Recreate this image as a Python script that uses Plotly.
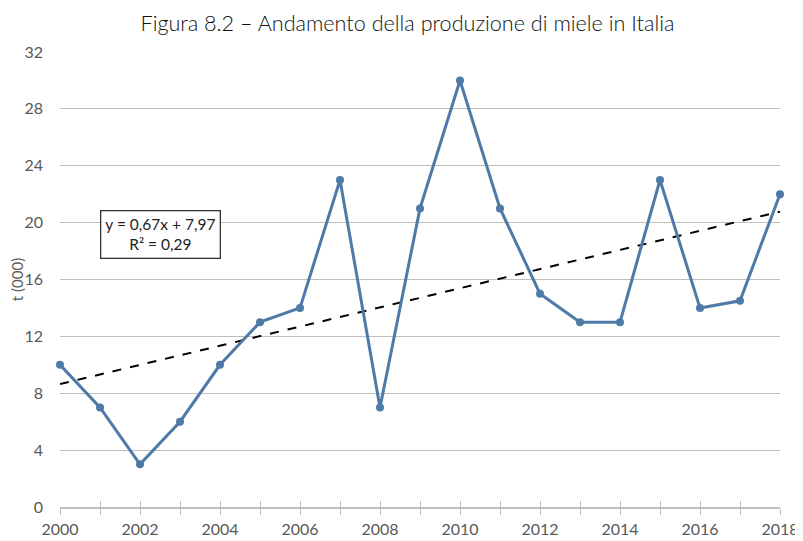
import numpy as np
import plotly.graph_objects as go

years = list(range(2000, 2019))
production = [10, 7, 3, 6, 10, 13, 14, 23, 7, 21, 30, 21, 15, 13, 13, 23, 14, 14.5, 22]
y_ticks = [0, 4, 8, 12, 16, 20, 24, 28, 32]
x_tick_labels = [str(y) if y % 2 == 0 else "" for y in years]

title = "Figura 8.2 – Andamento della produzione di miele in Italia"
equation = "y = 0,67x + 7,97<br>R² = 0,29"

# linear trend (x = 1..n, as in the spreadsheet)
idx = np.arange(1, len(years) + 1)
slope, intercept = np.polyfit(idx, production, 1)
trend = slope * idx + intercept

FONT = "Lato"
SERIES = "#4d7aa6"
GRID = "#bfbfbf"
TXT = "#595959"

fig = go.Figure()
fig.add_trace(go.Scatter(x=years, y=list(trend), mode="lines",
                         line=dict(color="black", width=2, dash="dash"),
                         hoverinfo="skip", showlegend=False))
fig.add_trace(go.Scatter(x=years, y=production, mode="lines+markers",
                         line=dict(color=SERIES, width=3),
                         marker=dict(color=SERIES, size=8),
                         cliponaxis=False, showlegend=False))
# dummy trace for overlay axis (inner halves of the tick marks)
fig.add_trace(go.Scatter(x=[years[0]], y=[0], xaxis="x2", mode="markers",
                         marker=dict(opacity=0), hoverinfo="skip", showlegend=False))

fig.add_annotation(x=2002.5, y=19.2, xref="x", yref="y", text=equation,
                   showarrow=False, align="center",
                   font=dict(family=FONT, size=15.5, color="#222222"),
                   bgcolor="white", bordercolor="#333333", borderwidth=1.3,
                   borderpad=4)

# page body has an 8px default margin: the figure is sized to fit the window
fig.update_layout(
    width=795, height=533,
    margin=dict(l=52, r=23, t=44, b=34, autoexpand=False),
    paper_bgcolor="white", plot_bgcolor="white",
    font=dict(family=FONT, color=TXT, size=15),
    title=dict(text=title, x=0.5 + 2 / 795, xanchor="center", y=0.985, yanchor="top",
               automargin=False,
               font=dict(family=FONT, size=21.6, color="#111111", weight=300)),
    xaxis=dict(range=[2000, 2018], tickvals=years, ticktext=x_tick_labels,
               ticks="outside", ticklen=6, tickcolor=GRID, tickwidth=1,
               showline=True, linecolor=GRID, linewidth=1.5,
               showgrid=False, zeroline=False, automargin=False,
               tickfont=dict(size=16, color=TXT), ticklabelstandoff=1),
    xaxis2=dict(range=[2000, 2018], overlaying="x", anchor="y", side="bottom",
                tickvals=years, showticklabels=False, automargin=False,
                ticks="inside", ticklen=6, tickcolor=GRID, tickwidth=1,
                showline=False, showgrid=False, zeroline=False),
    yaxis=dict(range=[0, 32], tickvals=y_ticks, showgrid=True, gridcolor=GRID,
               gridwidth=1.2, zeroline=False, showline=False,
               ticks="", ticklabelstandoff=16, automargin=False,
               tickfont=dict(size=16, color=TXT),
               title=dict(text="t (000)", standoff=0,
                          font=dict(size=15, color=TXT))),
)

fig.write_html("out.html")
